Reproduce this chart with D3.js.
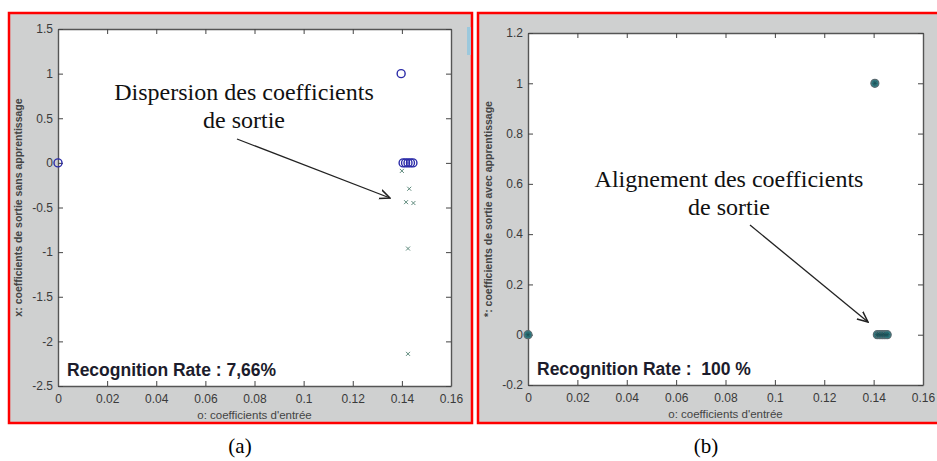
<!DOCTYPE html>
<html>
<head>
<meta charset="utf-8">
<script src="https://cdn.jsdelivr.net/npm/d3@7"></script>
<style>
  body { margin: 0; background: #fff; }
  svg { display: block; }
</style>
</head>
<body>
<div id="chart"></div>
<script>
// tick values
const xTicks = [0, 0.02, 0.04, 0.06, 0.08, 0.1, 0.12, 0.14, 0.16];
const yTicksA = [-2.5, -2, -1.5, -1, -0.5, 0, 0.5, 1, 1.5];
const yTicksB = [-0.2, 0, 0.2, 0.4, 0.6, 0.8, 1, 1.2];

// (a) without learning: o = input coefficients, x = output coefficients
const inputsA = [[0, 0], [0.1397, 1], [0.1405, 0], [0.1415, 0], [0.1425, 0], [0.1435, 0], [0.1445, 0]];
const outputsA = [[0.1400, -0.09], [0.1430, -0.29], [0.1417, -0.44], [0.1447, -0.45], [0.1425, -0.96], [0.1425, -2.14]];

// (b) with learning: outputs sit on the inputs
const inputsB = [[0, 0], [0.1405, 1], [0.1415, 0], [0.1425, 0], [0.1435, 0], [0.1445, 0], [0.1455, 0]];
const outputsB = [[0, 0], [0.1405, 1], [0.1415, 0], [0.1425, 0], [0.1435, 0], [0.1445, 0], [0.1455, 0]];

const W = 937, H = 461;
const svg = d3.select("#chart").append("svg")
    .attr("width", W).attr("height", H);

const sans = "'Liberation Sans', Arial, sans-serif";
const serif = "'Liberation Serif', 'Times New Roman', serif";

function drawPanel(cfg) {
    const g = svg.append("g");

    // figure gray background + red frame
    g.append("rect")
        .attr("x", cfg.frame[0]).attr("y", cfg.frame[1])
        .attr("width", cfg.frame[2]).attr("height", cfg.frame[3])
        .attr("fill", "#cfd0d0")
        .attr("stroke", "#f00").attr("stroke-width", 2.5);

    const x = d3.scaleLinear().domain([0, 0.16]).range([cfg.plot[0], cfg.plot[2]]);
    const y = d3.scaleLinear().domain(cfg.yDomain).range([cfg.plot[3], cfg.plot[1]]);

    g.append("rect")
        .attr("x", cfg.plot[0]).attr("y", cfg.plot[1])
        .attr("width", cfg.plot[2] - cfg.plot[0]).attr("height", cfg.plot[3] - cfg.plot[1])
        .attr("fill", "#fff");

    const fmt = d => String(+d.toFixed(2));

    // axes, MATLAB style: inward ticks on every side
    const bottom = g.append("g").attr("transform", `translate(0,${cfg.plot[3]})`)
        .call(d3.axisBottom(x).tickValues(xTicks).tickSizeInner(-5).tickSizeOuter(0).tickPadding(8).tickFormat(fmt));
    const top = g.append("g").attr("transform", `translate(0,${cfg.plot[1]})`)
        .call(d3.axisTop(x).tickValues(xTicks).tickSizeInner(-5).tickSizeOuter(0).tickFormat(""));
    const left = g.append("g").attr("transform", `translate(${cfg.plot[0]},0)`)
        .call(d3.axisLeft(y).tickValues(cfg.yTicks).tickSizeInner(-5).tickSizeOuter(0).tickPadding(5).tickFormat(fmt));
    const right = g.append("g").attr("transform", `translate(${cfg.plot[2]},0)`)
        .call(d3.axisRight(y).tickValues(cfg.yTicks).tickSizeInner(-5).tickSizeOuter(0).tickFormat(""));

    [bottom, top, left, right].forEach(a => {
        a.select(".domain").attr("stroke", "#555").attr("stroke-width", 1.4);
        a.selectAll(".tick line").attr("stroke", "#444");
        a.selectAll("text").attr("fill", "#3a3a3a")
            .style("font-family", sans)
            .style("font-size", "12px");
    });

    // axis titles
    g.append("text")
        .attr("x", (cfg.plot[0] + cfg.plot[2]) / 2).attr("y", cfg.plot[3] + 33)
        .attr("text-anchor", "middle")
        .attr("fill", "#444")
        .style("font-family", sans)
        .style("font-size", "11.5px")
        .text("o: coefficients d'entrée");

    g.append("text")
        .attr("transform", `translate(${cfg.plot[0] - 36},${(cfg.plot[1] + cfg.plot[3]) / 2}) rotate(-90)`)
        .attr("text-anchor", "middle")
        .attr("fill", "#444")
        .style("font-family", sans)
        .style("font-size", "10.5px")
        .style("font-weight", "bold")
        .text(cfg.yTitle);

    cfg.draw(g, x, y);

    // recognition rate
    g.append("text")
        .attr("x", cfg.plot[0] + 9).attr("y", cfg.plot[3] - 10)
        .attr("fill", "#1c1c2c")
        .style("font-family", sans)
        .style("font-weight", "bold")
        .style("font-size", "17.5px")
        .attr("xml:space", "preserve")
        .text(cfg.rate);

    // annotation + arrow
    const note = g.append("text")
        .attr("text-anchor", "middle")
        .attr("fill", "#111")
        .style("font-family", serif)
        .style("font-size", "24px");
    note.append("tspan").attr("x", cfg.note[0]).attr("y", cfg.note[1]).text(cfg.noteText);
    note.append("tspan").attr("x", cfg.note[0]).attr("y", cfg.note[1] + 28).text("de sortie");

    g.append("line")
        .attr("x1", cfg.arrow[0]).attr("y1", cfg.arrow[1])
        .attr("x2", cfg.arrow[2]).attr("y2", cfg.arrow[3])
        .attr("stroke", "#222").attr("stroke-width", 1.3)
        .attr("marker-end", "url(#arrow)");
}

svg.append("defs").append("marker")
    .attr("id", "arrow")
    .attr("viewBox", "0 0 10 10")
    .attr("refX", 9).attr("refY", 5)
    .attr("markerWidth", 9).attr("markerHeight", 9)
    .attr("orient", "auto")
    .append("path")
    .attr("d", "M0,1 L9,5 L0,9")
    .attr("fill", "none").attr("stroke", "#222").attr("stroke-width", 1.3);

drawPanel({
    frame: [9, 13, 463, 410],
    plot: [58, 29, 451, 386],
    yDomain: [-2.5, 1.5],
    yTicks: yTicksA,
    yTitle: "x: coefficients de sortie sans apprentissage",
    rate: "Recognition Rate : 7,66%",
    note: [244, 100],
    noteText: "Dispersion des coefficients",
    arrow: [237, 139, 390, 198],
    draw: (g, x, y) => {
        g.selectAll(".out").data(outputsA).enter().append("path")
            .attr("transform", d => `translate(${x(d[0])},${y(d[1])})`)
            .attr("d", "M-2,-2L2,2M-2,2L2,-2")
            .attr("stroke", "#5e8a7c").attr("stroke-width", 1).attr("fill", "none");
        g.selectAll(".in").data(inputsA).enter().append("circle")
            .attr("cx", d => x(d[0])).attr("cy", d => y(d[1]))
            .attr("r", 4)
            .attr("fill", "none").attr("stroke", "#2b2ba8").attr("stroke-width", 1.4);
    }
});

drawPanel({
    frame: [478, 13, 470, 410],
    plot: [528, 33, 923, 385],
    yDomain: [-0.2, 1.2],
    yTicks: yTicksB,
    yTitle: "*: coefficients de sortie avec apprentissage",
    rate: "Recognition Rate :  100 %",
    note: [729, 187],
    noteText: "Alignement des coefficients",
    arrow: [750, 225, 868, 322],
    draw: (g, x, y) => {
        g.selectAll(".in").data(inputsB).enter().append("circle")
            .attr("cx", d => x(d[0])).attr("cy", d => y(d[1]))
            .attr("r", 4)
            .attr("fill", "#2f7c82").attr("stroke", "#5a6a70").attr("stroke-width", 1.2);
        g.selectAll(".out").data(outputsB).enter().append("path")
            .attr("transform", d => `translate(${x(d[0])},${y(d[1])})`)
            .attr("d", "M-2.5,0L2.5,0M0,-2.5L0,2.5M-1.8,-1.8L1.8,1.8M-1.8,1.8L1.8,-1.8")
            .attr("stroke", "#1d4f55").attr("stroke-width", 0.8);
    }
});

// scrollbar remnant at the right of panel (a)
svg.append("rect").attr("x", 467).attr("y", 27).attr("width", 4).attr("height", 28).attr("fill", "#9cc8dc");

// sub-figure captions
svg.selectAll(".cap").data([["(a)", 240], ["(b)", 706]]).enter().append("text")
    .attr("x", d => d[1]).attr("y", 453)
    .attr("text-anchor", "middle")
    .style("font-family", serif)
    .style("font-size", "21px")
    .text(d => d[0]);
</script>
</body>
</html>
